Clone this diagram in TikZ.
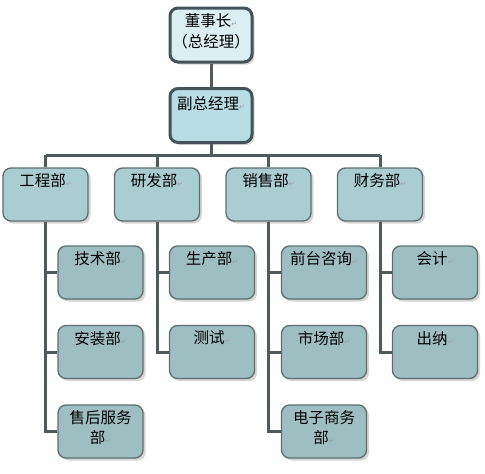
\documentclass[tikz,border=0pt]{standalone}
\usepackage{fontspec}
\setmainfont{Noto Sans CJK SC}
\newfontfamily\symfont{DejaVu Sans}
\usetikzlibrary{shadows}

\newcommand{\retmark}{{\symfont\fontsize{7pt}{7pt}\selectfont\textcolor{retColour}{↵}}}
\newcommand{\boxtext}[2][42pt]{\parbox[c][#1][t]{82pt}{\centering #2}}

\begin{document}
\begin{tikzpicture}[x=1pt, y=-1pt,
    boxshadow/.style={drop shadow={shadow xshift=2.5pt, shadow yshift=-2.5pt, fill=black!30, opacity=0.55}},
    chief/.style={draw=borderColourT, line width=3pt, rounded corners=8pt, inner sep=0pt,
        minimum width=82pt, minimum height=54pt, boxshadow, font=\fontsize{15.5pt}{21pt}\selectfont},
    dept/.style={draw=borderColourD, line width=1.3pt, rounded corners=8pt, inner sep=0pt,
        minimum width=85pt, minimum height=53pt, fill=fillColourD, boxshadow, font=\fontsize{15.5pt}{20pt}\selectfont},
    unit/.style={dept, fill=fillColourU},
    conn/.style={draw=lineColour, line width=3pt}]

    \definecolor{borderColourT}{HTML}{44525A}
    \definecolor{borderColourD}{HTML}{5E6E70}
    \definecolor{lineColour}{HTML}{4E5A5C}
    \definecolor{fillColourC}{HTML}{DCEEF2}
    \definecolor{fillColourV}{HTML}{B8DDE3}
    \definecolor{fillColourD}{HTML}{AACDD1}
    \definecolor{fillColourU}{HTML}{9EBFC2}
    \definecolor{retColour}{HTML}{A0A0A0}

    \useasboundingbox (0,0) rectangle (485,474);

    % Top of the chart
    \node[chief, fill=fillColourC] (ceo) at (211,35) {\boxtext[44pt]{董事长\retmark\\（总经理）}};
    \node[chief, fill=fillColourV] (vp) at (211,115.5) {\boxtext[38pt]{副总经理\retmark}};

    % Departments
    \node[dept] (eng) at (45.5,194.5) {\boxtext{工程部\retmark}};
    \node[dept] (rnd) at (157,194.5) {\boxtext{研发部\retmark}};
    \node[dept] (sales) at (268.5,194.5) {\boxtext{销售部\retmark}};
    \node[dept] (fin) at (380,194.5) {\boxtext{财务部\retmark}};

    % Units below each department
    \node[unit] (tech) at (100.5,272.5) {\boxtext{技术部\retmark}};
    \node[unit] (install) at (100.5,352) {\boxtext{安装部\retmark}};
    \node[unit] (service) at (100.5,431.5) {\boxtext{售后服务\\部\retmark}};

    \node[unit] (prod) at (212,272.5) {\boxtext{生产部\retmark}};
    \node[unit] (test) at (212,352) {\boxtext{测试\retmark}};

    \node[unit] (front) at (324,272.5) {\boxtext{前台咨询\retmark}};
    \node[unit] (market) at (324,352) {\boxtext{市场部\retmark}};
    \node[unit] (ecom) at (324,431.5) {\boxtext{电子商务\\部\retmark}};

    \node[unit] (acct) at (435,272.5) {\boxtext{会计\retmark}};
    \node[unit] (cash) at (435,352) {\boxtext{出纳\retmark}};

    % Connectors
    \coordinate (bus) at (211,155);
    \draw[conn] (ceo) -- (vp);
    \draw[conn] (vp) -- (bus);
    \draw[conn] (eng.north |- bus) -- (fin.north |- bus);
    \foreach \d in {eng,rnd,sales,fin}
        \draw[conn] (\d.north |- bus) -- (\d.north);

    \draw[conn] (eng) |- (service);
    \draw[conn] (eng.south |- tech) -- (tech);
    \draw[conn] (eng.south |- install) -- (install);

    \draw[conn] (rnd) |- (test);
    \draw[conn] (rnd.south |- prod) -- (prod);

    \draw[conn] (sales) |- (ecom);
    \draw[conn] (sales.south |- front) -- (front);
    \draw[conn] (sales.south |- market) -- (market);

    \draw[conn] (fin) |- (cash);
    \draw[conn] (fin.south |- acct) -- (acct);

\end{tikzpicture}
\end{document}
